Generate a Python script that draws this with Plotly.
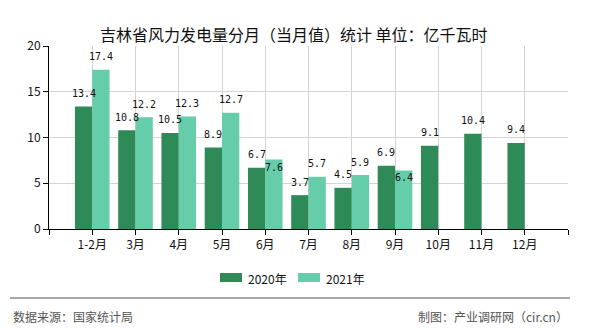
import plotly.graph_objects as go

title_text = "吉林省风力发电量分月（当月值）统计 单位：亿千瓦时"
months = ["1-2月", "3月", "4月", "5月", "6月", "7月", "8月", "9月", "10月", "11月", "12月"]
series_names = ["2020年", "2021年"]
values_2020 = [13.4, 10.8, 10.5, 8.9, 6.7, 3.7, 4.5, 6.9, 9.1, 10.4, 9.4]
values_2021 = [17.4, 12.2, 12.3, 12.7, 7.6, 5.7, 5.9, 6.4, None, None, None]
y_ticks = [0, 5, 10, 15, 20]
source_text = "数据来源：国家统计局"
maker_text = "制图：产业调研网（cir.cn）"

colors = ["#2E8B57", "#66CDAA"]
series_values = [values_2020, values_2021]
bargap = 0.2
# label vertical nudges (px) for labels that were moved to avoid collisions
label_nudge = {(1, 4): -8, (1, 7): -7}

positions = list(range(1, len(months) + 1))

fig = go.Figure()
for name, vals, col in zip(series_names, series_values, colors):
    fig.add_trace(go.Bar(
        x=positions, y=vals, name=name, marker=dict(color=col, line=dict(width=0)),
        showlegend=False, hoverinfo="skip",
    ))

annotations = []
bar_w = (1 - bargap) / len(series_names)
for s, vals in enumerate(series_values):
    off = -(1 - bargap) / 2 + bar_w * (s + 0.5)
    for i, v in enumerate(vals):
        if v is None:
            continue
        annotations.append(dict(
            x=positions[i] + off, y=v, xref="x", yref="y",
            text=f"{v:.1f}", showarrow=False, yanchor="middle",
            yshift=label_nudge.get((s, i), 13),
            font=dict(family="DejaVu Sans Mono", size=10, color="#111"),
        ))

# title
annotations.append(dict(x=294, y=20, xref="paper", yref="paper", text=title_text,
                        showarrow=False))
# custom legend texts
legend_x = [220, 298]
legend_y = 278
for lx, name in zip(legend_x, series_names):
    annotations.append(dict(x=lx + 26, y=legend_y, text=name, showarrow=False,
                            xanchor="left", yanchor="middle",
                            font=dict(family="Noto Sans CJK SC", size=12, color="#111")))
annotations.append(dict(x=11, y=316, text=source_text, showarrow=False,
                        xanchor="left", yanchor="middle",
                        font=dict(family="Noto Sans CJK SC", size=12, color="#555")))
annotations.append(dict(x=570, y=316, text=maker_text, showarrow=False,
                        xanchor="right", yanchor="middle",
                        font=dict(family="Noto Sans CJK SC", size=12, color="#555")))

W, H = 590, 330
L, R, T, B = 49, 22, 46, 101


def to_paper(a):
    if a.get("xref") == "x":
        return a
    a = dict(a)
    a["xref"] = "paper"
    a["yref"] = "paper"
    a["x"] = (a["x"] - L) / (W - L - R)
    a["y"] = (H - B - a["y"]) / (H - T - B)
    return a


annotations = [to_paper(a) for a in annotations]
annotations[-5]["font"] = dict(family="Noto Sans CJK SC", size=16, color="#111")

shapes = [dict(type="line", xref="paper", yref="paper",
               x0=(10 - L) / (W - L - R), x1=(570 - L) / (W - L - R),
               y0=(H - B - 298) / (H - T - B), y1=(H - B - 298) / (H - T - B),
               line=dict(color="#888", width=1.5))]
for lx, col in zip(legend_x, colors):
    shapes.append(dict(type="rect", xref="paper", yref="paper",
                       x0=(lx - L) / (W - L - R), x1=(lx + 22 - L) / (W - L - R),
                       y0=(H - B - 273) / (H - T - B), y1=(H - B - 282) / (H - T - B),
                       line=dict(width=0), fillcolor=col))

fig.update_layout(
    width=W, height=H,
    margin=dict(l=L, r=R, t=T, b=B, pad=0),
    paper_bgcolor="white", plot_bgcolor="white",
    barmode="group", bargap=bargap, bargroupgap=0,
    annotations=annotations, shapes=shapes,
    font=dict(family="Noto Sans CJK SC", size=12, color="#111"),
    xaxis=dict(range=[0, len(months) + 1], tickmode="array",
               tickvals=list(range(0, len(months) + 2)),
               ticktext=[""] + months + [""],
               showgrid=True, gridcolor="#d4d4d4", gridwidth=1,
               showline=True, linecolor="#000", linewidth=1,
               ticks="outside", ticklen=5, tickcolor="#000",
               zeroline=False, fixedrange=True,
               tickfont=dict(family="Noto Sans CJK SC", size=12, color="#111")),
    yaxis=dict(range=[0, 20], tickmode="array", tickvals=y_ticks,
               showgrid=True, gridcolor="#d4d4d4", gridwidth=1,
               showline=True, linecolor="#000", linewidth=1,
               ticks="outside", ticklen=5, tickcolor="#000",
               zeroline=False, fixedrange=True,
               tickfont=dict(family="Noto Sans CJK SC", size=12, color="#111")),
)

fig.write_html("out.html", config={"displayModeBar": False})
